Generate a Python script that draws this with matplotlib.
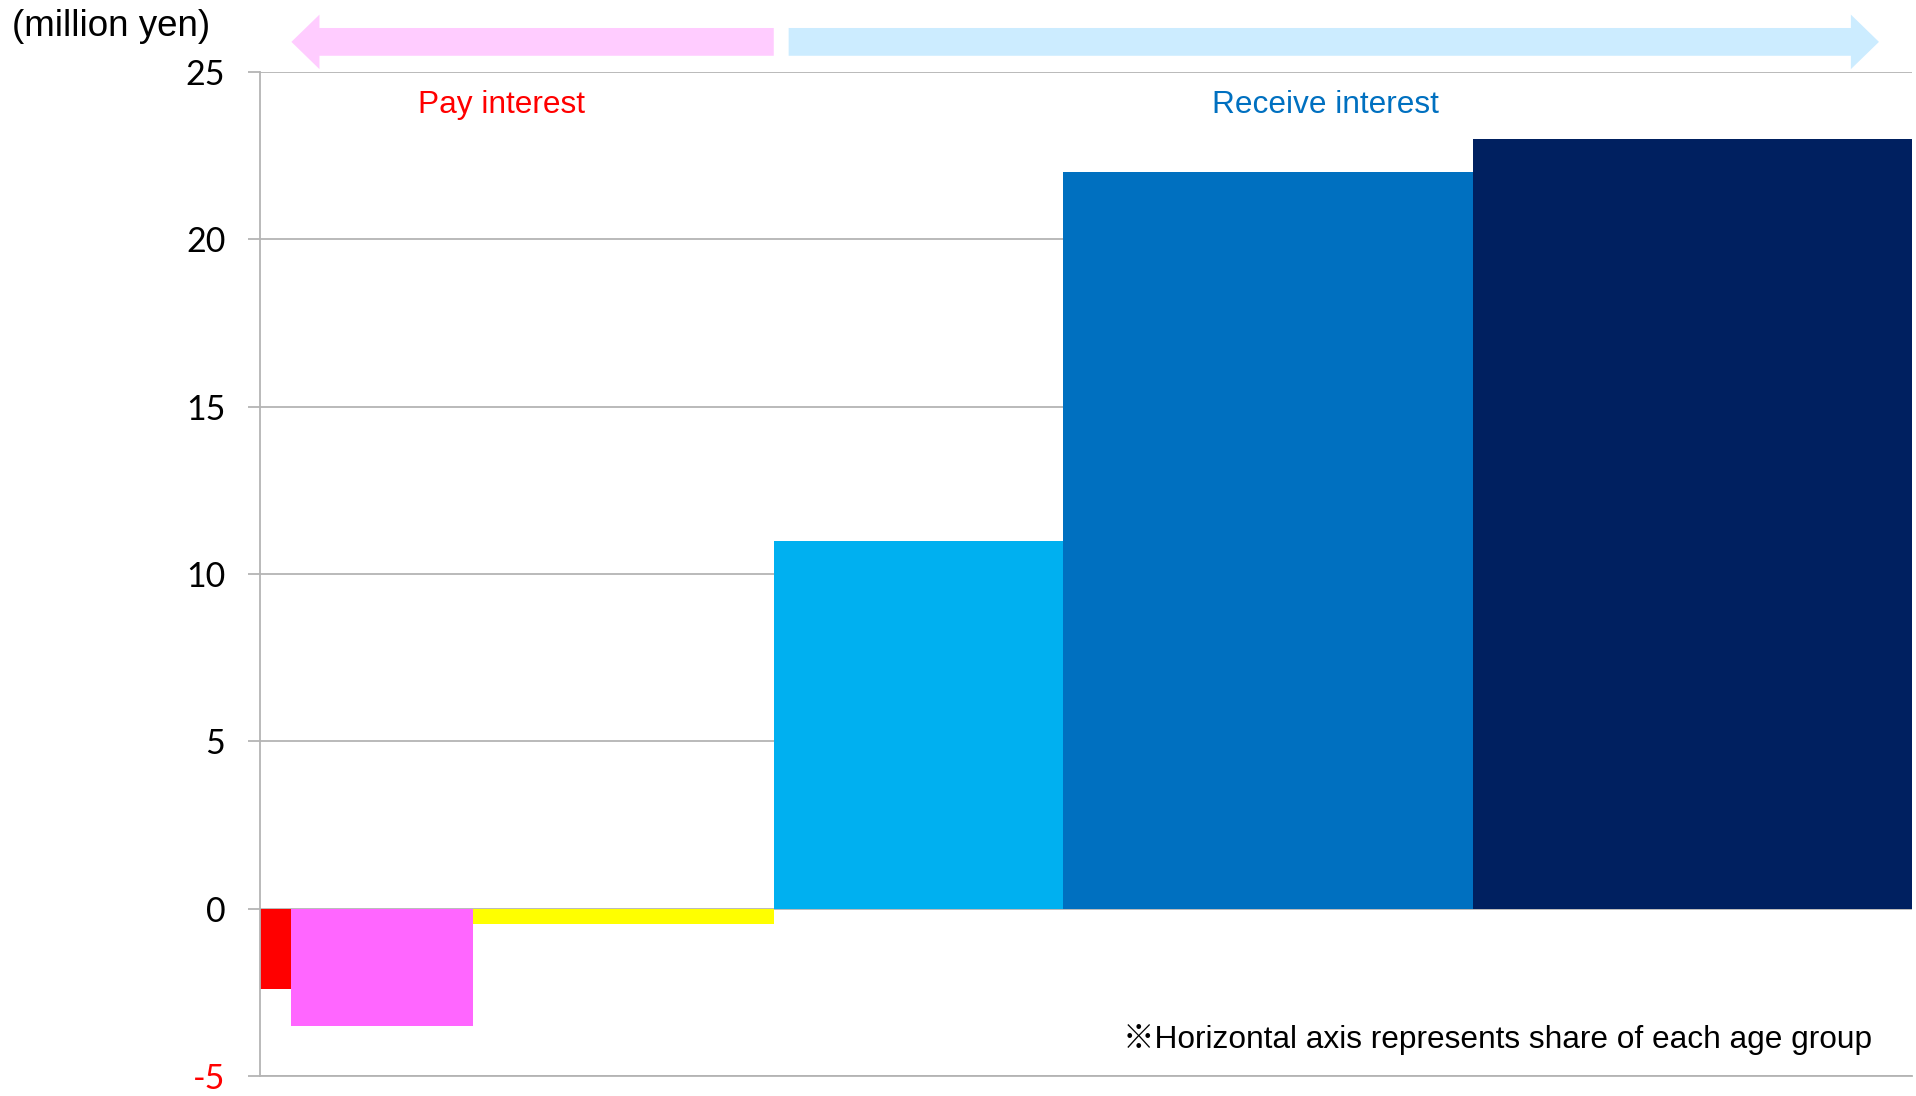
import numpy as np
import matplotlib
matplotlib.use('Agg')
import matplotlib.pyplot as plt
from matplotlib.patches import FancyArrow

# Net interest position by age group (million yen); bar width = share of each group (%)
groups = ['A', 'B', 'C', 'D', 'E', 'F']
shares = [1.9, 11.0, 18.2, 17.5, 24.8, 26.6]
values = [-2.4, -3.5, -0.45, 11.0, 22.0, 23.0]
colors = ['#FF0000', '#FF66FF', '#FFFF00', '#00B0F0', '#0070C0', '#002060']
yticks = [-5, 0, 5, 10, 15, 20, 25]

grid_col = '#B4B4B4'
txt_font = ['Liberation Sans', 'Noto Sans CJK JP']

fig = plt.figure(figsize=(19.16, 10.96), dpi=100)
ax = fig.add_axes([260 / 1916, 20 / 1096, 1652 / 1916, 1004 / 1096])

lefts = np.concatenate([[0], np.cumsum(shares)[:-1]])
ax.bar(lefts, values, width=shares, align='edge', color=colors, linewidth=0, zorder=2)

ax.set_xlim(0, 100)
ax.set_ylim(-5, 25)
ax.set_yticks(yticks)
ax.set_yticklabels([str(t) for t in yticks], fontsize=24.5, family='Lato')
ax.get_yticklabels()[0].set_color('#FF0000')
ax.tick_params(axis='y', length=9, width=1.3, color=grid_col, pad=16)
ax.tick_params(axis='x', bottom=False, labelbottom=False)
ax.set_axisbelow(True)
ax.yaxis.grid(True, color=grid_col, linewidth=1.3)

for side in ['top', 'right']:
    ax.spines[side].set_visible(False)
for side in ['left', 'bottom']:
    ax.spines[side].set_color(grid_col)
    ax.spines[side].set_linewidth(1.3)

# Direction arrows above the plot area
cum = np.cumsum(shares)
pay_end = cum[0]
pay_start = cum[2]
recv_start = cum[2] + 0.9
recv_end = 98.0
arrow_y = 25.9
head_len = 1.7
ax.add_patch(FancyArrow(pay_start, arrow_y, pay_end - pay_start, 0, width=0.83,
                        head_width=1.63, head_length=head_len, length_includes_head=True,
                        color='#FFCCFF', linewidth=0, clip_on=False))
ax.add_patch(FancyArrow(recv_start, arrow_y, recv_end - recv_start, 0, width=0.83,
                        head_width=1.63, head_length=head_len, length_includes_head=True,
                        color='#CCECFF', linewidth=0, clip_on=False))

ax.text(14.6, 24.02, 'Pay interest', color='#FF0000', fontsize=22.8, family=txt_font,
        ha='center', va='center')
ax.text(64.5, 24.02, 'Receive interest', color='#0070C0', fontsize=22.8, family=txt_font,
        ha='center', va='center')
ax.text(97.6, -3.92, '※Horizontal axis represents share of each age group', color='black',
        fontsize=22.8, family=txt_font, ha='right', va='center')

fig.text(12 / 1916, 1 - 27 / 1096, '(million yen)', fontsize=26.5, family=txt_font,
         ha='left', va='center')

fig.savefig('out.png', dpi=100)
